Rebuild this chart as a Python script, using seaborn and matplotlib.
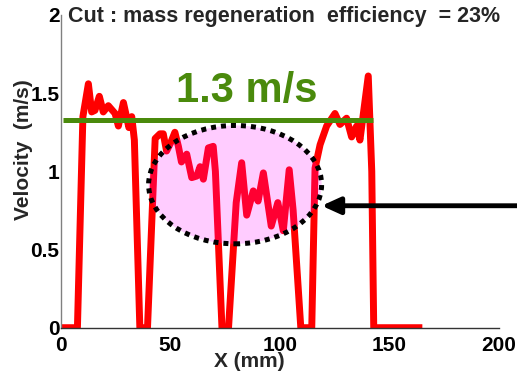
import matplotlib
matplotlib.use("Agg")
import matplotlib.pyplot as plt
from matplotlib.patches import Ellipse
import seaborn as sns
import pandas as pd

# Measured velocity profile along the cut
x_mm = [0, 7.5, 10, 12.5, 14, 15.5, 17.5, 19.3, 21.6, 24.7, 26.2, 28.5, 31, 32.3,
        33.5, 36, 39.5, 43, 45.2, 46.7, 48.2, 50, 52, 53.6, 55, 57.4, 59.7, 62,
        63.5, 65, 67.3, 69.5, 70.5, 73.5, 76.5, 80, 82.5, 84.8, 87.8, 90, 92.4,
        96, 99, 101.5, 104.2, 106, 109.5, 114.5, 116, 118.3, 121.3, 125.1, 127.4,
        130.4, 132.7, 135, 136.5, 140.3, 141.9, 142.8, 165]
velocity = [0, 0, 1.35, 1.56, 1.38, 1.39, 1.48, 1.38, 1.42, 1.37, 1.29, 1.44, 1.28, 1.35,
            1.2, 0, 0, 1.21, 1.24, 1.24, 1.13, 1.18, 1.25, 1.16, 1.06, 1.11, 0.96, 0.97,
            1.03, 0.95, 1.15, 1.16, 1.0, 0, 0, 0.8, 1.055, 0.72, 0.875, 0.81, 0.99,
            0.65, 0.8, 0.62, 1.01, 0.75, 0, 0, 1.02, 1.17, 1.29, 1.37, 1.30,
            1.34, 1.22, 1.29, 1.20, 1.61, 1.0, 0, 0]

mean_velocity = 1.33
mean_span = [1, 142.5]
mean_label = "1.3 m/s"
title_text = "Cut : mass regeneration  efficiency  = 23%"

x_ticks = [0, 50, 100, 150, 200]
y_ticks = [0, 0.5, 1, 1.5, 2]
y_tick_labels = ["0", "0.5", "1", "1.5", "2"]

sns.set_style("white")
plt.rcParams["font.family"] = ["Liberation Sans", "DejaVu Sans"]
plt.rcParams["font.weight"] = "bold"

fig = plt.figure(figsize=(5.17, 3.74), dpi=100)
ax = fig.add_axes([61 / 517, 1 - 327.7 / 374, 438 / 517, 312.7 / 374])

df = pd.DataFrame({"x": x_mm, "v": velocity})
sns.lineplot(data=df, x="x", y="v", ax=ax, color="#ff0000", linewidth=5,
             sort=False, estimator=None, zorder=2)
for ln in ax.get_lines():
    ln.set_solid_joinstyle("round")
    ln.set_solid_capstyle("butt")

# mean-velocity reference
ax.plot(mean_span, [mean_velocity, mean_velocity], color="#4a8a0c", linewidth=3.6,
        zorder=4, solid_capstyle="butt")
ax.text(85, 1.445, mean_label, color="#4a8a0c", fontsize=30, fontweight="bold",
        ha="center", va="baseline")

# highlighted region of reduced velocity
ell = Ellipse((79.5, 0.915), 79, 0.757, facecolor=(1, 0, 1, 0.2),
              edgecolor="black", linewidth=3.6, linestyle=(0, (1, 1)), zorder=3)
ax.add_patch(ell)

ax.annotate("", xy=(119, 0.78), xytext=(209, 0.78),
            arrowprops=dict(arrowstyle="-|>,head_length=0.55,head_width=0.25",
                            color="black", lw=3.5, mutation_scale=20,
                            shrinkA=0, shrinkB=0),
            annotation_clip=False, zorder=5)

ax.text(7 / 438, (327.7 - 22) / 312.7, title_text, transform=ax.transAxes,
        fontsize=15.5, fontweight="bold", ha="left", va="baseline")

ax.set_xlim(0, 200)
ax.set_ylim(0, 2)
ax.set_xticks(x_ticks)
ax.set_xticklabels([str(t) for t in x_ticks])
ax.set_yticks(y_ticks)
ax.set_yticklabels(y_tick_labels)
ax.tick_params(axis="both", direction="in", length=4, width=1, labelsize=15)
ax.tick_params(axis="x", pad=6, colors="#333333", labelcolor="black")
ax.tick_params(axis="y", pad=1, colors="#808080", labelcolor="black")
for lab in ax.get_xticklabels() + ax.get_yticklabels():
    lab.set_fontweight("bold")

ax.set_xlabel("X (mm)", fontsize=15, fontweight="bold")
ax.set_ylabel("Velocity  (m/s)", fontsize=15, fontweight="bold")
ax.xaxis.set_label_coords(0.43, -0.079)
ax.yaxis.set_label_coords(-0.064, 0.571)

for side in ["top", "right"]:
    ax.spines[side].set_visible(False)
ax.spines["left"].set_color("#808080")
ax.spines["bottom"].set_color("#333333")
ax.spines["left"].set_linewidth(1)
ax.spines["bottom"].set_linewidth(1)

fig.savefig("out.png", dpi=100)
